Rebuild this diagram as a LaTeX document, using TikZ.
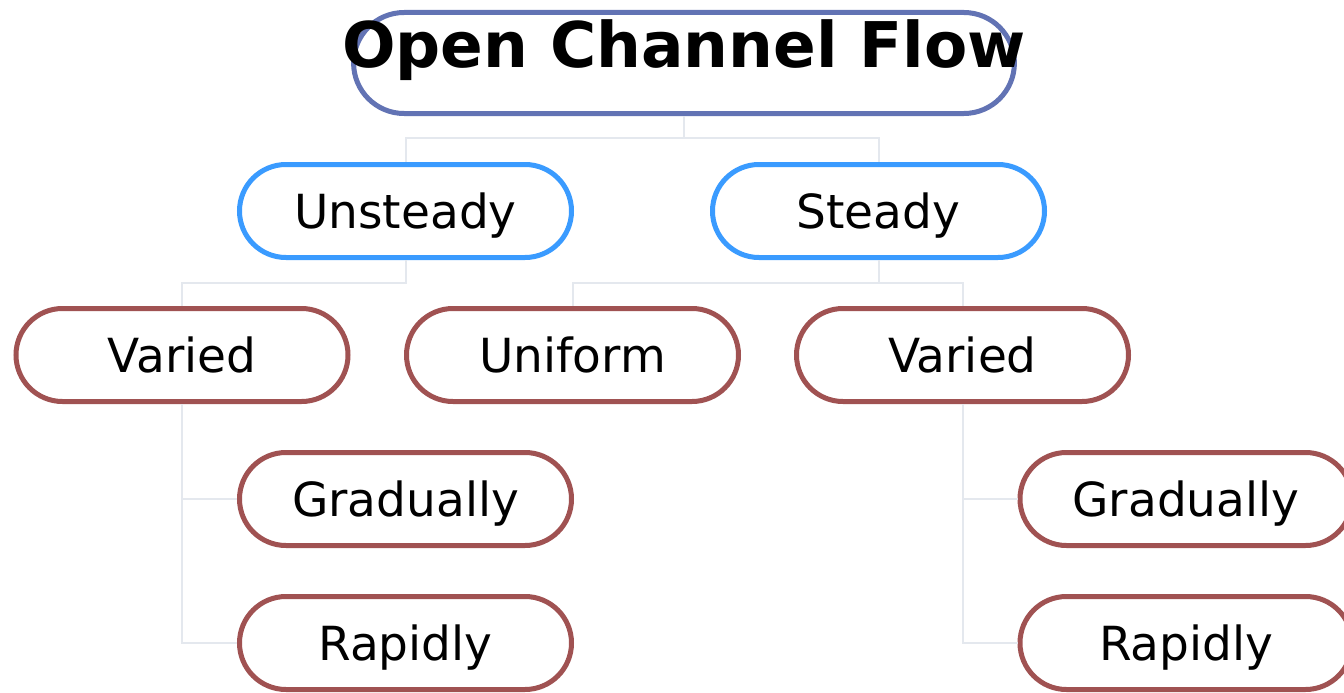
\documentclass[tikz,border=0pt]{standalone}
\usepackage{fontspec}
\setmainfont{DejaVu Sans}
\usetikzlibrary{positioning,shapes.misc}

\definecolor{rootc}{RGB}{98,115,180}
\definecolor{typec}{RGB}{58,155,255}
\definecolor{leafc}{RGB}{160,82,82}
\definecolor{linkc}{RGB}{228,232,238}

% white page that greys off a little at the far sides
\pgfdeclareradialshading{pagefade}{\pgfpoint{0bp}{0bp}}{%
  color(0bp)=(white); color(30bp)=(white); color(50bp)=(black!5)}

\begin{document}
\begin{tikzpicture}[x=1pt, y=-1pt,
  box/.style={draw, line width=5pt, fill=white, rounded rectangle,
    minimum width=332pt, minimum height=93pt, inner sep=0pt,
    text height=35pt, text depth=0pt, font=\fontsize{47}{54}\selectfont},
  flowtype/.style={box, draw=typec},
  flowkind/.style={box, draw=leafc},
  link/.style={draw=linkc, line width=2pt}]
  \clip (0,0) rectangle (1344,693);
  \shade[shading=pagefade] (-100,-300) rectangle (1444,993);

  \node[draw=rootc, fill=white, line width=5pt, rounded rectangle, inner xsep=-62pt, inner ysep=0pt,
    text height=54.5pt, text depth=46.5pt, font=\bfseries\fontsize{63}{70}\selectfont]
    (flow) at (684,63) {Open Channel Flow};

  \node[flowtype] (unsteady) at (405.5,211) {Unsteady};
  \node[flowtype] (steady)   at (878.5,211) {Steady};

  \node[flowkind] (variedU) at (182,355)   {Varied};
  \node[flowkind] (uniform) at (572.5,355) {Uniform};
  \node[flowkind] (variedS) at (962.5,355) {Varied};

  \node[flowkind] (gradU) at (405.5,499) {Gradually};
  \node[flowkind] (rapU)  at (405.5,643) {Rapidly};
  \node[flowkind] (gradS) at (1186,499)  {Gradually};
  \node[flowkind] (rapS)  at (1186,643)  {Rapidly};

  % tree lines
  \path[link] (flow.south) -- ++(0,22) -| (unsteady.north);
  \path[link] (flow.south) -- ++(0,22) -| (steady.north);
  \path[link] (unsteady.south) -- ++(0,23) -| (variedU.north);
  \path[link] (steady.south) -- ++(0,23) -| (uniform.north);
  \path[link] (steady.south) -- ++(0,23) -| (variedS.north);
  \path[link] (variedU.south) |- (gradU.west);
  \path[link] (variedU.south) |- (rapU.west);
  \path[link] (variedS.south) |- (gradS.west);
  \path[link] (variedS.south) |- (rapS.west);
\end{tikzpicture}
\end{document}
